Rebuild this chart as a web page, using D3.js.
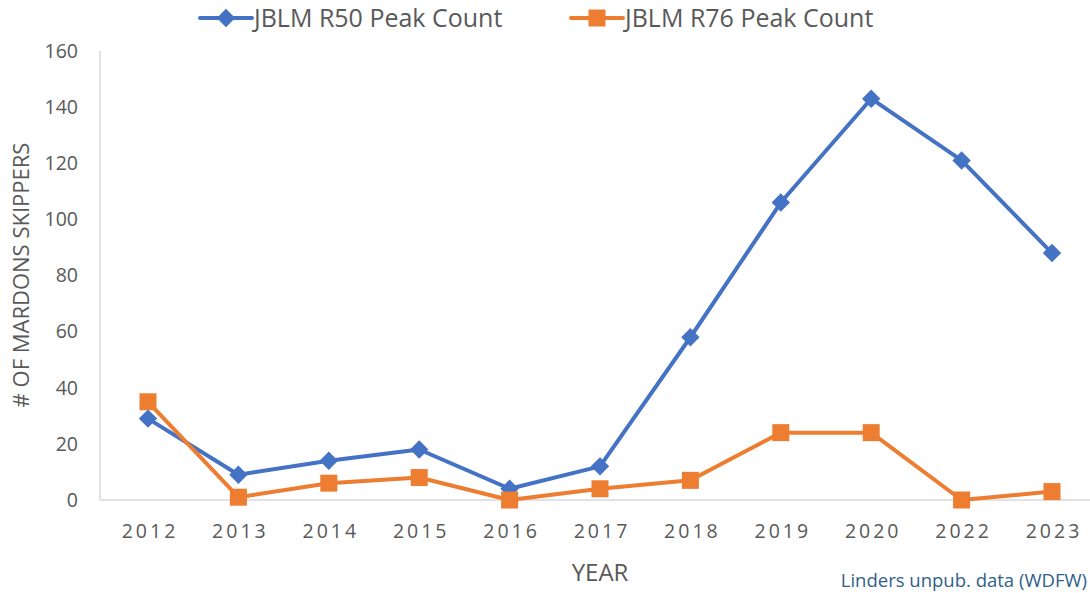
<!DOCTYPE html>
<html><head><meta charset="utf-8">
<script src="https://cdn.jsdelivr.net/npm/d3@7"></script>
<style>body{margin:0;background:#fff}svg{display:block}</style>
</head><body>
<svg id="c" width="1090" height="593"></svg>
<script>
const years = ["2012","2013","2014","2015","2016","2017","2018","2019","2020","2022","2023"];
const r50 = [29, 9, 14, 18, 4, 12, 58, 106, 143, 121, 88];
const r76 = [35, 1, 6, 8, 0, 4, 7, 24, 24, 0, 3];
const yTicks = [0, 20, 40, 60, 80, 100, 120, 140, 160];
const seriesNames = ["JBLM R50 Peak Count", "JBLM R76 Peak Count"];
const colors = ["#4472C4", "#ED7D31"];

const svg = d3.select("#c");
const font = "'Open Sans', 'Liberation Sans', sans-serif";
const textCol = "#595959";

const x = d3.scalePoint().domain(years).range([148, 1052]);
const y = d3.scaleLinear().domain([0, 160]).range([500, 51]);

// axes lines
svg.append("line").attr("x1", 100).attr("x2", 1090).attr("y1", y(0)).attr("y2", y(0))
  .attr("stroke", "#d9d9d9").attr("stroke-width", 1.5);
svg.append("line").attr("x1", 100).attr("x2", 100).attr("y1", y(160)).attr("y2", y(0))
  .attr("stroke", "#d9d9d9").attr("stroke-width", 1.5);

// y ticks
const yAxis = d3.axisLeft(y).tickValues(yTicks).tickSize(0).tickPadding(0);
const gy = svg.append("g").attr("transform", "translate(78,0)").call(yAxis);
gy.select(".domain").remove();
gy.selectAll("text").attr("font-family", font).attr("font-size", 19.5).attr("fill", textCol);

// x ticks
const xAxis = d3.axisBottom(x).tickSize(0).tickPadding(0);
const gx = svg.append("g").attr("transform", "translate(0,524)").call(xAxis);
gx.select(".domain").remove();
gx.selectAll("text").attr("font-family", font).attr("font-size", 19.5).attr("fill", textCol)
  .attr("letter-spacing", "3px").attr("dx", "1.5px");

// titles
svg.append("text").attr("x", 600).attr("y", 581).attr("text-anchor", "middle")
  .attr("font-family", font).attr("font-size", 24).attr("fill", textCol).text("YEAR");
svg.append("text").attr("transform", "translate(29,275) rotate(-90)").attr("text-anchor", "middle")
  .attr("font-family", font).attr("font-size", 22).attr("fill", textCol).text("# OF MARDONS SKIPPERS");
svg.append("text").attr("x", 1087).attr("y", 587).attr("text-anchor", "end")
  .attr("font-family", font).attr("font-size", 18.5).attr("fill", "#2F5F8A").text("Linders unpub. data (WDFW)");

const line = d3.line().x((d, i) => x(years[i])).y(d => y(d));
[r50, r76].forEach((s, k) => {
  svg.append("path").datum(s).attr("d", line).attr("fill", "none")
    .attr("stroke", colors[k]).attr("stroke-width", 4).attr("stroke-linejoin", "round");
});

function diamond(g, cx, cy, c) {
  g.append("rect").attr("x", cx - 6.5).attr("y", cy - 6.5).attr("width", 13).attr("height", 13)
    .attr("transform", `rotate(45,${cx},${cy})`).attr("fill", c);
}
function square(g, cx, cy, c) {
  g.append("rect").attr("x", cx - 8.5).attr("y", cy - 8.5).attr("width", 17).attr("height", 17).attr("fill", c);
}
const gm = svg.append("g");
r50.forEach((v, i) => diamond(gm, x(years[i]), y(v), colors[0]));
r76.forEach((v, i) => square(gm, x(years[i]), y(v), colors[1]));

// legend
const leg = [{x0: 200, m: diamond}, {x0: 571, m: square}];
leg.forEach((L, k) => {
  svg.append("line").attr("x1", L.x0).attr("x2", L.x0 + 52).attr("y1", 18).attr("y2", 18)
    .attr("stroke", colors[k]).attr("stroke-width", 4).attr("stroke-linecap", "round");
  L.m(svg, L.x0 + 26, 18, colors[k]);
  svg.append("text").attr("x", L.x0 + 54).attr("y", 27).attr("font-family", font)
    .attr("font-size", 25).attr("fill", textCol).text(seriesNames[k]);
});
</script>
</body></html>
